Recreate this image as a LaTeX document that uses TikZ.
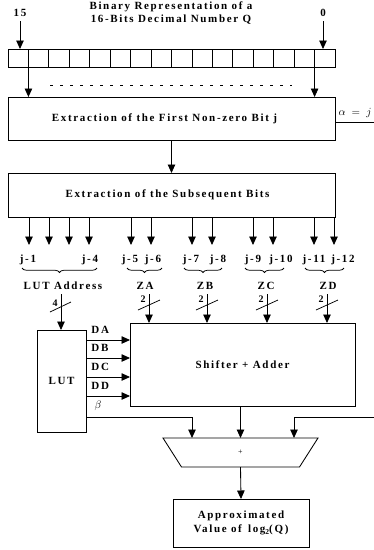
\documentclass[tikz,border=0pt]{standalone}
\usepackage{fontspec}
\newfontfamily\lsf{Liberation Serif}[LetterSpace=15]
\newfontfamily\plainserif{Liberation Serif}
\usetikzlibrary{arrows.meta,decorations.pathreplacing}
\begin{document}
\begin{tikzpicture}[x=1pt,y=-1pt,line width=0.85pt,
  arr/.style={-{Triangle[length=8.5pt,width=7.5pt]}},
  txt/.style={font=\lsf\bfseries\fontsize{11}{13.5}\selectfont, inner sep=0pt},
  small/.style={font=\lsf\bfseries\fontsize{10}{10}\selectfont, inner sep=0pt},
  box/.style={draw, inner sep=0pt, outer sep=0pt, anchor=north west},
  cell/.style={draw, inner sep=0pt, outer sep=0pt, anchor=north west, minimum width=20.44, minimum height=18.5},
  brc/.style={decorate, decoration={brace, mirror, amplitude=4.5pt}, line width=0.75pt},
  slash/.style={line width=0.75pt}]
\useasboundingbox (0,0) rectangle (374,550);

% title
\node[txt, align=center] (title) at (171,13) {Binary Representation of a\\16-Bits Decimal Number Q};

% bit cells
\foreach \i in {0,...,15} {
  \node[cell] (c\i) at ({8+\i*20.44},49) {};
}
\node[txt] (n15) at (20,13) {15};
\node[txt] (n0) at (323,13) {0};
\draw[arr] (n15.south |- 0,21) -- (n15.south |- c0.north);
\draw[arr] (n0.south |- 0,21) -- (n0.south |- c15.north);

% box 1
\node[box, txt, minimum width=327, minimum height=43] (b1) at (8,97) {\hspace*{-14pt}Extraction of the First Non-zero Bit j};
\draw[arr] (c0.south east) -- (c0.south east |- b1.north);
\draw[arr] (c14.south east) -- (c14.south east |- b1.north);
\coordinate (d1) at (50,85);
\coordinate (d2) at (292,85);
\draw[dash pattern=on 3pt off 7pt, line width=1pt] (d1) -- (d2);

% alpha output
\coordinate (aend) at (374,122);
\draw (b1.east |- aend) -- (aend);
\node[inner sep=0pt, font=\fontsize{10.5}{12}\selectfont] (alpha) at (355,113) {$\alpha\;=\;j$};

% box 2
\node[box, txt, minimum width=327, minimum height=44] (b2) at (8,173) {\hspace*{-8pt}Extraction of the Subsequent Bits};
\draw[arr] (b1.south) -- (b2.north);

% bit outputs
\foreach \x [count=\k] in {29,49,69,89,131,151,192,212,253,273,314,334} {
  \coordinate (o\k) at (\x,245);
  \draw[arr] (b2.south -| o\k) -- (o\k);
}
\node[txt] (j1) at (28,260) {j-1};
\node[txt] (j4) at (90,260) {j-4};
\node[txt] (j5) at (130,260) {j-5};
\node[txt] (j6) at (153,260) {j-6};
\node[txt] (j7) at (191,260) {j-7};
\node[txt] (j8) at (218,260) {j-8};
\node[txt] (j9) at (253,260) {j-9};
\node[txt] (j10) at (281,260) {j-10};
\node[txt] (j11) at (314,260) {j-11};
\node[txt] (j12) at (343,260) {j-12};

% braces
\draw[brc] (22,268) -- (97,268);
\draw[brc] (127,268) -- (162,268);
\draw[brc] (184,268) -- (222,268);
\draw[brc] (245,268) -- (284,268);
\draw[brc] (305,268) -- (344,268);

\node[txt] (lutaddr) at (63,286) {LUT Address};
\node[txt] (za) at (145,286) {ZA};
\node[txt] (zb) at (205,286) {ZB};
\node[txt] (zc) at (266,286) {ZC};
\node[txt] (zd) at (328,286) {ZD};

% LUT and shifter
\node[box, txt, minimum width=49, minimum height=102] (lut) at (37,330) {LUT};
\node[box, txt, minimum width=225, minimum height=83] (sa) at (130,323) {Shifter + Adder};

% bus arrows
\coordinate (la) at (61,294);
\draw[arr] (la) -- (la |- lut.north);
\draw[slash] (50,312) -- (71,302);
\node[small] (four) at (55,303) {4};
\foreach \x/\nm in {149/za, 207/zb, 267/zc, 327/zd} {
  \coordinate (s\nm) at (\x,294);
  \draw[arr] (s\nm) -- (s\nm |- sa.north);
  \draw[slash] (\x-11,310) -- (\x+11,300);
  \node[small] (two\nm) at (\x-6,299) {2};
}

% LUT -> shifter
\foreach \y/\lab in {340/DA, 358/DB, 377/DC, 396/DD} {
  \coordinate (h\lab) at (0,\y);
  \draw[arr] (lut.east |- h\lab) -- (sa.west |- h\lab);
  \node[txt, anchor=west] (l\lab) at (91,\y-10) {\lab};
}
\node[inner sep=0pt, font=\fontsize{10.5}{12}\selectfont] (beta) at (98,406) {$\beta$};

% adder
\node[minimum width=155, minimum height=29, inner sep=0pt, outer sep=0pt, font=\plainserif\fontsize{8}{9}\selectfont] (add) at (240.5,452.5) {+};
\draw (add.north west) -- (add.north east) -- ([xshift=-18.5pt]add.south east) -- ([xshift=18.5pt]add.south west) -- cycle;
\coordinate (bl) at (86,417);
\coordinate (in1) at (192,438);
\coordinate (in3) at (294,438);
\coordinate (rin) at (374,417);
\draw[arr] (lut.east |- bl) -| (in1);
\draw[arr] (sa.south -| add.north) -- (add.north);
\draw[arr] (rin) -| (in3);

% output
\node[box, txt, align=center, minimum width=136, minimum height=48] (out) at (173,499) {Approximated\\[0pt]Value of \,log\raisebox{-2.5pt}{\fontsize{7.5}{8}\selectfont 2}(Q)};
\draw[arr] (add.south) -- (out.north);
\end{tikzpicture}
\end{document}
